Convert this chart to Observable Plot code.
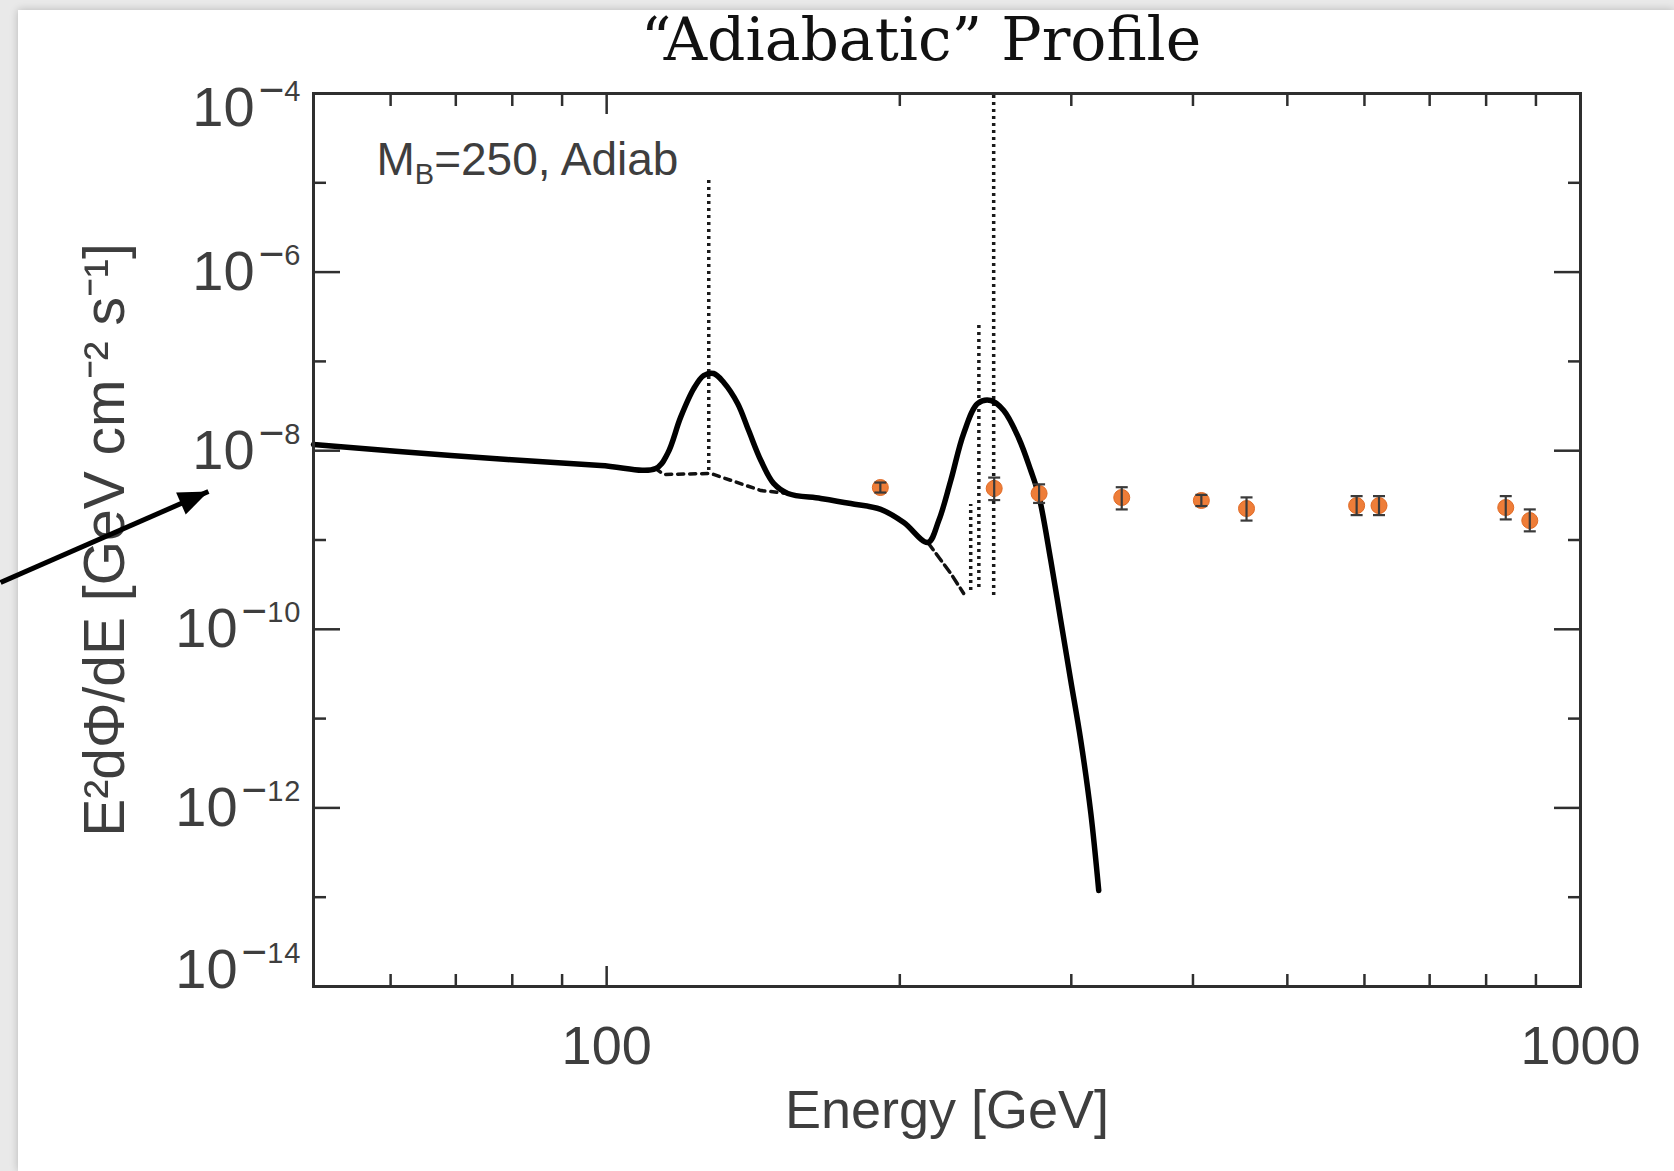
<!DOCTYPE html>
<html><head><meta charset="utf-8">
<script src="https://cdn.jsdelivr.net/npm/d3@7"></script>
<script src="https://cdn.jsdelivr.net/npm/@observablehq/plot@0.6"></script>
<style>
html,body{margin:0;padding:0;background:#e9e9e9;overflow:hidden;width:1674px;height:1171px;}
#card{position:absolute;left:18px;top:10px;right:0;bottom:0;background:#fff;box-shadow:0 0 8px rgba(0,0,0,0.22);}
#chart{position:absolute;left:0;top:0;}
</style></head><body><div id="card"></div><div id="chart"></div>
<script>
// ---- text ----
const titleText = "\u201CAdiabatic\u201D Profile";
const annotText = "MB=250, Adiab";
const xLabelText = "Energy [GeV]";
const yLabelText = "E\u00B2d\u03A6/dE [GeV cm\u207B\u00B2 s\u207B\u00B9]";

// ---- ticks ----
const xMajorTicks = [100, 1000];
const xMinorTicks = [60, 70, 80, 90, 200, 300, 400, 500, 600, 700, 800, 900];
const yMajorTicks = [1e-4, 1e-6, 1e-8, 1e-10, 1e-12, 1e-14];
const yMinorTicks = [1e-5, 1e-7, 1e-9, 1e-11, 1e-13];

// ---- total (smoothed) spectrum, solid ----
const curveE = [50.0, 69.2, 98.6, 112.3, 115.5, 119.1, 122.9, 125.8, 128.8, 131.9, 136.3, 139.9, 144.0, 148.4, 153.5,
  165.9, 178.1, 191.2, 201.9, 213.7, 219.3, 225.6, 232.6, 240.5, 248.0, 255.7, 265.0, 272.6, 277.8, 285.8, 292.6,
  299.6, 306.8, 314.2, 320.1];
const curveF = [1.17e-8, 8.83e-9, 6.82e-9, 6.32e-9, 9.31e-9, 2.36e-8, 4.98e-8, 6.95e-8, 7.32e-8, 5.81e-8, 3.38e-8,
  1.68e-8, 7.76e-9, 4.30e-9, 3.32e-9, 2.92e-9, 2.56e-9, 2.20e-9, 1.57e-9, 9.37e-10, 1.65e-9, 4.63e-9, 1.56e-8,
  3.38e-8, 3.65e-8, 2.82e-8, 1.37e-8, 6.0e-9, 3.15e-9, 5.89e-10, 1.26e-10, 2.67e-11, 5.69e-12, 8.65e-13, 1.19e-13];

// ---- continuum under the lines, dashed ----
const cont1E = [112.3, 114.4, 127.9, 144.0, 153.5];
const cont1F = [6.32e-9, 5.42e-9, 5.56e-9, 3.58e-9, 3.32e-9];
const cont2E = [213.7, 225.6, 232.6];
const cont2F = [9.37e-10, 4.22e-10, 2.52e-10];

// ---- unsmoothed line features, dotted ----
const lineE = [127.3, 236.5, 241.1, 249.7];
const lineTop = [1.17e-5, 2.5e-9, 2.65e-7, 1e-4];
const lineBottom = [6.0e-9, 2.72e-10, 2.94e-10, 2.39e-10];

// ---- data points ----
const dataE = [191, 250, 278, 338, 408, 454, 589, 621, 838, 887];
const dataF = [3.87e-9, 3.78e-9, 3.32e-9, 2.99e-9, 2.77e-9, 2.25e-9, 2.43e-9, 2.43e-9, 2.31e-9, 1.65e-9];
const dataLo = [3.4e-9, 2.8e-9, 2.6e-9, 2.2e-9, 2.4e-9, 1.65e-9, 1.9e-9, 1.9e-9, 1.7e-9, 1.25e-9];
const dataHi = [4.4e-9, 5.0e-9, 4.2e-9, 3.9e-9, 3.2e-9, 3.0e-9, 3.1e-9, 3.1e-9, 3.1e-9, 2.2e-9];

// ---- annotation arrow (tail -> tip) ----
const arrowE = [23.86, 39.0];
const arrowF = [3.34e-10, 3.49e-9];

// ---- tables ----
const toRows = (E, F) => E.map((e, i) => ({e, f: F[i]}));
const curveRows = toRows(curveE, curveF);
const cont1Rows = toRows(cont1E, cont1F);
const cont2Rows = toRows(cont2E, cont2F);
const lineRows = lineE.map((e, i) => ({e, top: lineTop[i], bottom: lineBottom[i]}));
const dataRows = dataE.map((e, i) => ({e, f: dataF[i], lo: dataLo[i], hi: dataHi[i]}));
const arrowRows = [{x1: arrowE[0], y1: arrowF[0], x2: arrowE[1], y2: arrowF[1]}];

const capSymbol = {draw(ctx) { ctx.moveTo(-6, 0); ctx.lineTo(6, 0); }};
const headSymbol = {draw(ctx) { ctx.moveTo(0, 0); ctx.lineTo(-30, -12); ctx.lineTo(-30, 12); ctx.closePath(); }};

const axisColor = "#2f2f2f";
const textColor = "#3e3e3e";
const fontAxis = "'Liberation Sans', Arial, Helvetica, sans-serif";
const blank = () => "";

const plot = Plot.plot({
  width: 1674, height: 1171,
  marginLeft: 313, marginRight: 94, marginTop: 93, marginBottom: 185,
  style: {background: "transparent", overflow: "visible", fontFamily: fontAxis, color: textColor},
  x: {type: "log", domain: [50, 1000]},
  y: {type: "log", domain: [1e-14, 1e-4]},
  marks: [
    // dotted line features
    Plot.ruleX(lineRows, {x: "e", y1: "bottom", y2: "top", stroke: "#1a1a1a", strokeWidth: 3.5, strokeDasharray: "3,4"}),
    // dashed continuum
    Plot.line(cont1Rows, {x: "e", y: "f", stroke: "#111", strokeWidth: 3.5, strokeDasharray: "6,6"}),
    Plot.line(cont2Rows, {x: "e", y: "f", stroke: "#111", strokeWidth: 3.5, strokeDasharray: "9,5"}),
    // solid total
    Plot.line(curveRows, {x: "e", y: "f", stroke: "#000", strokeWidth: 5.5, curve: "catmull-rom", strokeLinejoin: "round"}),
    // data points
    Plot.dot(dataRows, {x: "e", y: "f", r: 8, fill: "#ee7d38", stroke: "#e06a25", strokeWidth: 1}),
    Plot.ruleX(dataRows, {x: "e", y1: "lo", y2: "hi", stroke: "#3a3a3a", strokeWidth: 2.2}),
    Plot.dot(dataRows, {x: "e", y: "lo", symbol: capSymbol, stroke: "#3a3a3a", strokeWidth: 2.2, fill: "none"}),
    Plot.dot(dataRows, {x: "e", y: "hi", symbol: capSymbol, stroke: "#3a3a3a", strokeWidth: 2.2, fill: "none"}),
    // frame
    Plot.frame({stroke: axisColor, strokeWidth: 3}),
    // x ticks (inward), bottom and top
    Plot.axisX({anchor: "bottom", ticks: xMajorTicks, tickSize: -20, tickFormat: blank, strokeWidth: 2.5, stroke: axisColor, label: null}),
    Plot.axisX({anchor: "bottom", ticks: xMinorTicks, tickSize: -12, tickFormat: blank, strokeWidth: 2.5, stroke: axisColor, label: null}),
    Plot.axisX({anchor: "top", ticks: xMajorTicks, tickSize: -20, tickFormat: blank, strokeWidth: 2.5, stroke: axisColor, label: null}),
    Plot.axisX({anchor: "top", ticks: xMinorTicks, tickSize: -12, tickFormat: blank, strokeWidth: 2.5, stroke: axisColor, label: null}),
    Plot.axisX({anchor: "bottom", ticks: xMajorTicks, tickSize: 0, tickPadding: 39, fontSize: 54, fill: textColor, tickFormat: d => String(Math.round(d)), label: null}),
    // y ticks (inward), left and right
    Plot.axisY({anchor: "left", ticks: yMajorTicks, tickSize: -27, tickFormat: blank, strokeWidth: 2.5, stroke: axisColor, label: null}),
    Plot.axisY({anchor: "left", ticks: yMinorTicks, tickSize: -13, tickFormat: blank, strokeWidth: 2.5, stroke: axisColor, label: null}),
    Plot.axisY({anchor: "right", ticks: yMajorTicks, tickSize: -27, tickFormat: blank, strokeWidth: 2.5, stroke: axisColor, label: null}),
    Plot.axisY({anchor: "right", ticks: yMinorTicks, tickSize: -13, tickFormat: blank, strokeWidth: 2.5, stroke: axisColor, label: null}),
    Plot.axisY({anchor: "left", ticks: yMajorTicks, tickSize: 0, tickPadding: 12, fontSize: 56, fill: textColor,
      tickFormat: d => "10^" + Math.round(-Math.log10(d)), label: null}),
    // texts
    Plot.text([titleText], {frameAnchor: "top", lineAnchor: "middle", dx: -26, dy: -53, fontFamily: "'DejaVu Serif', 'Liberation Serif', serif", fontSize: 60, fill: "#111"}),
    Plot.text([annotText], {frameAnchor: "top-left", lineAnchor: "middle", dx: 63, dy: 67, textAnchor: "start", fontSize: 46, fill: textColor}),
    Plot.text([xLabelText], {frameAnchor: "bottom", lineAnchor: "middle", dy: 124, fontSize: 54, fill: textColor}),
    Plot.text([yLabelText], {frameAnchor: "left", lineAnchor: "middle", dx: -208, rotate: -90, textAnchor: "middle", fontSize: 57, fill: textColor}),
    // arrow
    Plot.link(arrowRows, {x1: "x1", y1: "y1", x2: "x2", y2: "y2", stroke: "#000", strokeWidth: 5}),
    Plot.dot(arrowRows, {x: "x2", y: "y2", symbol: headSymbol, fill: "#000", stroke: "none", rotate: -23.6})
  ]
});
document.getElementById("chart").appendChild(plot);

// ---- superscripts / subscripts as tspans ----
const NS = "http://www.w3.org/2000/svg";
function tspan(txt, attrs) {
  const t = document.createElementNS(NS, "tspan");
  t.textContent = txt;
  for (const k in attrs) t.setAttribute(k, attrs[k]);
  return t;
}
plot.querySelectorAll("text").forEach(el => {
  const s = el.textContent;
  if (s.startsWith("10^")) {
    const exp = s.slice(3);
    // end labels sit inside the frame's vertical extent, as in the original
    const shift = exp === "4" ? 15 : exp === "14" ? -16 : 0;
    el.textContent = "";
    el.append(
      tspan("10", {dy: shift}),
      tspan("\u2212", {"font-size": 44, dx: 4, dy: -21}),
      tspan(exp, {"font-size": 29, "letter-spacing": 1, dy: -4})
    );
  } else if (s === annotText) {
    el.textContent = "";
    el.append(tspan("M", {}), tspan("B", {"font-size": 29, dy: 9}), tspan("=250, Adiab", {dy: -9}));
  }
});
</script></body></html>
